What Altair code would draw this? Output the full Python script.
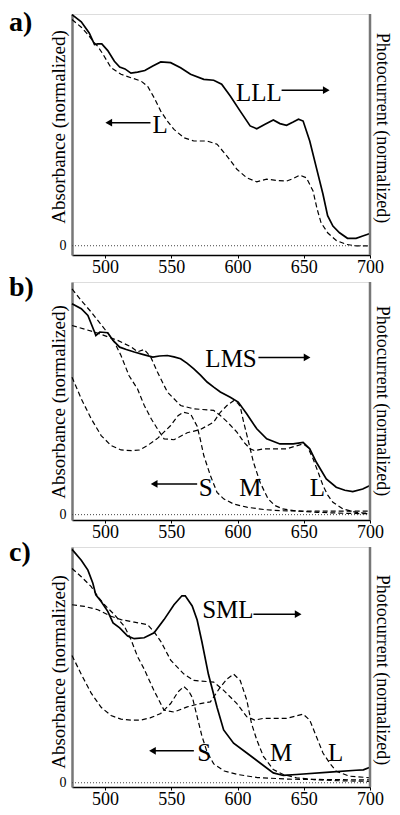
import altair as alt
import pandas as pd

FONT = "Liberation Serif"

# ---------------- Panel a ----------------
a_lll_nm = [475, 482, 488, 492, 494.5, 497.5, 502, 507, 511, 515, 519.5, 524.5, 530, 536, 542, 549.5, 557, 564.5,
            574.5, 582, 588, 594.5, 602, 609.5, 614.5, 620.75, 627, 632, 637, 642, 646, 649.5, 654.5, 659.5, 664.5,
            668, 672, 677, 683, 689.5, 694.5, 700]
a_lll_val = [0.997, 0.966, 0.918, 0.868, 0.871, 0.871, 0.842, 0.796, 0.771, 0.763, 0.745, 0.749, 0.756, 0.776, 0.793,
             0.790, 0.768, 0.740, 0.718, 0.714, 0.697, 0.646, 0.581, 0.517, 0.505, 0.524, 0.543, 0.527, 0.520, 0.534,
             0.546, 0.538, 0.452, 0.337, 0.222, 0.130, 0.085, 0.056, 0.032, 0.032, 0.042, 0.053]
a_l_nm = [475, 482, 487, 492, 494.5, 498, 504.5, 512, 519.5, 527, 532, 537, 542, 547, 552, 559.5, 567, 577, 584.5,
          592, 599.5, 607, 614.5, 622, 629.5, 637, 642, 647, 652, 657, 660, 663, 668, 674.5, 682, 689.5, 700]
a_l_val = [0.976, 0.943, 0.911, 0.875, 0.86, 0.83, 0.768, 0.740, 0.725, 0.711, 0.689, 0.639, 0.581, 0.538, 0.502,
           0.466, 0.452, 0.452, 0.438, 0.387, 0.330, 0.293, 0.276, 0.287, 0.282, 0.279, 0.29, 0.305, 0.293, 0.236,
           0.16, 0.10, 0.056, 0.023, 0.006, -0.001, -0.001]

# ---------------- Panel b ----------------
b_lms_nm = [475, 482, 487, 492, 493, 496, 502, 506, 511, 516, 522, 529, 536, 541, 547, 552, 557, 562, 567, 572, 577,
            582, 587, 594.5, 600.5, 607, 614.5, 622, 632, 642, 649.5, 654.5, 659.5, 667, 674.5, 681, 687, 694.5, 700]
b_lms_val = [0.907, 0.885, 0.856, 0.785, 0.77, 0.785, 0.782, 0.749, 0.72, 0.71, 0.699, 0.688, 0.677, 0.682, 0.684,
             0.678, 0.67, 0.65, 0.627, 0.60, 0.57, 0.548, 0.527, 0.505, 0.484, 0.433, 0.369, 0.326, 0.304, 0.304,
             0.311, 0.283, 0.225, 0.154, 0.118, 0.105, 0.099, 0.11, 0.125]
b_s_nm = [475, 482, 489.5, 497, 504.5, 512, 520, 526, 532, 540, 549.5, 555, 559, 564.5, 569.5, 572, 574.5, 579.5,
          584.5, 589.5, 597, 607, 620, 632, 660, 700]
b_s_val = [0.591, 0.498, 0.412, 0.34, 0.297, 0.278, 0.275, 0.278, 0.297, 0.33, 0.383, 0.425, 0.44, 0.433, 0.38, 0.32,
           0.254, 0.168, 0.096, 0.068, 0.046, 0.032, 0.022, 0.017, 0.015, 0.015]
b_m_nm = [475, 482, 489.5, 499.5, 507, 512, 518, 524.5, 529.5, 535, 539.5, 544.5, 552, 562, 572, 582, 587, 592, 597,
          600, 602, 604.5, 608, 612, 617, 623, 628, 634, 645, 660, 680, 700]
b_m_val = [0.97, 0.92, 0.871, 0.799, 0.742, 0.684, 0.598, 0.54, 0.47, 0.41, 0.369, 0.326, 0.322, 0.352, 0.366, 0.398,
           0.44, 0.469, 0.49, 0.48, 0.465, 0.40, 0.32, 0.225, 0.139, 0.068, 0.04, 0.025, 0.015, 0.01, 0.006, 0.004]
b_l_nm = [475, 492, 509.5, 520, 524.5, 529.5, 534.5, 539.5, 547, 557, 567, 582, 587, 592, 599.5, 605, 609.5, 613,
          619.5, 637, 644, 649.5, 653, 657, 661, 664.5, 668, 672, 679.5, 689.5, 700]
b_l_val = [0.813, 0.785, 0.749, 0.72, 0.70, 0.71, 0.677, 0.613, 0.527, 0.469, 0.455, 0.448, 0.426, 0.40, 0.355, 0.31,
           0.283, 0.275, 0.283, 0.283, 0.295, 0.304, 0.29, 0.24, 0.18, 0.125, 0.085, 0.053, 0.025, 0.01, 0.005]

# ---------------- Panel c ----------------
c_sml_nm = [475, 482, 487, 490.75, 493, 497, 502, 506, 511, 517, 522, 529.5, 537, 544.5, 552, 558, 560.5, 565.75,
            569.5, 573, 578, 584.5, 589.5, 597, 607, 617, 627, 634.5, 644.5, 669.5, 689.5, 695, 700]
c_sml_val = [0.99, 0.944, 0.902, 0.846, 0.797, 0.769, 0.727, 0.678, 0.657, 0.622, 0.611, 0.615, 0.636, 0.692, 0.755,
             0.793, 0.793, 0.75, 0.69, 0.60, 0.46, 0.32, 0.224, 0.168, 0.126, 0.084, 0.042, 0.031, 0.035, 0.045,
             0.053, 0.055, 0.066]
c_s_nm = [475, 482, 489.5, 497, 504.5, 512, 520, 527, 534, 542, 549.5, 555, 559.5, 563, 566, 569.5, 573, 577, 582,
          590, 600, 615, 640, 700]
c_s_val = [0.54, 0.46, 0.38, 0.32, 0.285, 0.27, 0.265, 0.266, 0.275, 0.294, 0.336, 0.385, 0.408, 0.39, 0.36, 0.28,
           0.2, 0.13, 0.08, 0.05, 0.035, 0.022, 0.015, 0.012]
c_m_nm = [475, 482, 489.5, 494.5, 499.5, 507, 514.5, 519.5, 524.5, 529.5, 537, 544.5, 552, 562, 572, 579.5, 587, 592,
          597, 602, 607, 610.5, 614.5, 619.5, 627, 634.5, 644.5, 660, 680, 700]
c_m_val = [0.909, 0.874, 0.832, 0.79, 0.755, 0.713, 0.664, 0.608, 0.535, 0.482, 0.39, 0.308, 0.30, 0.322, 0.336,
           0.343, 0.406, 0.44, 0.461, 0.434, 0.35, 0.252, 0.182, 0.112, 0.056, 0.035, 0.021, 0.012, 0.008, 0.006]
c_l_nm = [475, 484.5, 494.5, 504.5, 512, 522, 532, 537, 542, 549.5, 559.5, 567, 582, 589.5, 599.5, 607, 613, 619.5,
          637, 649.5, 654.5, 659.5, 664.5, 669.5, 674.5, 684.5, 700]
c_l_val = [0.755, 0.748, 0.734, 0.706, 0.692, 0.681, 0.671, 0.64, 0.60, 0.52, 0.461, 0.434, 0.427, 0.392, 0.336, 0.28,
           0.266, 0.273, 0.273, 0.291, 0.266, 0.196, 0.126, 0.084, 0.049, 0.028, 0.021]

# ---------------- Annotations ----------------
a_txt = ["LLL", "L"]
a_txt_nm = [598.75, 535.75]
a_txt_v = [0.625, 0.4865]
a_arr_from = [633.25, 534.25]
a_arr_to = [667.0, 502.75]
a_arr_v = [0.671, 0.531]

b_txt = ["LMS", "S", "M", "L"]
b_txt_nm = [575.7, 570.75, 601.2, 654.5]
b_txt_v = [0.633, 0.0815, 0.0815, 0.0815]
b_arr_from = [615.75, 569.5]
b_arr_to = [652.5, 537.0]
b_arr_v = [0.676, 0.132]

c_txt = ["SML", "S", "M", "L"]
c_txt_nm = [573.25, 569.5, 624.5, 668.25]
c_txt_v = [0.698, 0.091, 0.091, 0.091]
c_arr_from = [612.0, 567.0]
c_arr_to = [645.75, 535.75]
c_arr_v = [0.715, 0.1357]

panel_labels = ["a)", "b)", "c)"]
left_title = "Absorbance (normalized)"
right_title = "Photocurrent (normalized)"
x_ticks = [500, 525, 550, 575, 600, 625, 650, 675, 700]

W = 298


def curves_df(pairs):
    frames = []
    for name, nm, val in pairs:
        frames.append(pd.DataFrame({"nm": nm, "v": val, "curve": name}))
    return pd.concat(frames, ignore_index=True)


def panel(solid, dashed, txt, txt_nm, txt_v, arr_from, arr_to, arr_v, label, ymin, height,
          label_y, ltitle_y, rtitle_y):
    xs = alt.Scale(domain=[475, 700], nice=False, zero=False)
    ys = alt.Scale(domain=[ymin, 1.0], nice=False, zero=False)
    xenc = alt.X("nm:Q", scale=xs, axis=alt.Axis(
        values=x_ticks, labelExpr="datum.value % 50 == 0 ? datum.label : ''", title=None, grid=False,
        domainColor="black", domainWidth=1.6, tickColor="black", tickSize=3, tickWidth=1,
        labelFont=FONT, labelFontSize=18, labelColor="black", labelPadding=0, labelFlush=False))
    yenc = alt.Y("v:Q", scale=ys, axis=alt.Axis(
        values=[0], format="d", title=None, grid=False, domainColor="#777777", domainWidth=2.5, tickSize=0,
        labelFont=FONT, labelFontSize=14, labelColor="black", labelPadding=6))

    dashed_df = curves_df(dashed)
    solid_df = curves_df([solid])

    l_dash = alt.Chart(dashed_df).mark_line(color="black", strokeWidth=1.2, strokeDash=[5, 3]).encode(
        x=xenc, y=yenc, detail="curve:N")
    l_solid = alt.Chart(solid_df).mark_line(color="black", strokeWidth=1.7).encode(
        x=alt.X("nm:Q", scale=xs), y=alt.Y("v:Q", scale=ys))
    zero = alt.Chart(pd.DataFrame({"v": [0.0]})).mark_rule(
        color="#444444", strokeWidth=1, strokeDash=[1, 2]).encode(y=alt.Y("v:Q", scale=ys))
    right = alt.Chart(pd.DataFrame({"nm": [700]})).mark_rule(color="#777777", strokeWidth=2.5).encode(
        x=alt.X("nm:Q", scale=xs), y=alt.value(0), y2=alt.value(height))

    tdf = pd.DataFrame({"nm": txt_nm, "v": txt_v, "t": txt})
    texts = alt.Chart(tdf).mark_text(font=FONT, fontSize=25, align="left", baseline="alphabetic",
                                     color="black").encode(
        x=alt.X("nm:Q", scale=xs), y=alt.Y("v:Q", scale=ys), text="t:N")

    adf = pd.DataFrame({"x1": arr_from, "x2": arr_to, "v": arr_v})
    arrows = alt.Chart(adf).mark_rule(color="black", strokeWidth=1.5).encode(
        x=alt.X("x1:Q", scale=xs), x2="x2:Q", y=alt.Y("v:Q", scale=ys))
    hdf = pd.DataFrame({"nm": arr_to, "v": arr_v,
                        "shape": ["triangle-right" if b > a else "triangle-left"
                                  for a, b in zip(arr_from, arr_to)]})
    heads = alt.Chart(hdf).mark_point(filled=True, color="black", opacity=1, size=60, strokeWidth=0).encode(
        x=alt.X("nm:Q", scale=xs), y=alt.Y("v:Q", scale=ys), shape=alt.Shape("shape:N", scale=None))

    lab = alt.Chart(pd.DataFrame({"t": [label]})).mark_text(
        font=FONT, fontSize=28, fontWeight="bold", align="left", baseline="top", color="black").encode(
        x=alt.value(-63), y=alt.value(label_y), text="t:N")
    lt = alt.Chart(pd.DataFrame({"t": [left_title]})).mark_text(
        font=FONT, fontSize=19, angle=270, align="center", baseline="middle", color="black").encode(
        x=alt.value(-13), y=alt.value(ltitle_y), text="t:N")
    rt = alt.Chart(pd.DataFrame({"t": [right_title]})).mark_text(
        font=FONT, fontSize=18, angle=90, align="center", baseline="middle", color="black").encode(
        x=alt.value(310), y=alt.value(rtitle_y), text="t:N")

    return alt.layer(l_dash, l_solid, zero, right, texts, arrows, heads, lab, lt, rt).properties(
        width=W, height=height)


pa = panel(("LLL", a_lll_nm, a_lll_val), [("L", a_l_nm, a_l_val)],
           a_txt, a_txt_nm, a_txt_v, a_arr_from, a_arr_to, a_arr_v, panel_labels[0],
           -0.04, 241, -5, 113, 114)
pb = panel(("LMS", b_lms_nm, b_lms_val), [("S", b_s_nm, b_s_val), ("M", b_m_nm, b_m_val), ("L", b_l_nm, b_l_val)],
           b_txt, b_txt_nm, b_txt_v, b_arr_from, b_arr_to, b_arr_v, panel_labels[1],
           -0.023, 238, -8, 120, 119)
pc = panel(("SML", c_sml_nm, c_sml_val), [("S", c_s_nm, c_s_val), ("M", c_m_nm, c_m_val), ("L", c_l_nm, c_l_val)],
           c_txt, c_txt_nm, c_txt_v, c_arr_from, c_arr_to, c_arr_v, panel_labels[2],
           -0.018, 240, -8, 125, 123)

chart = alt.vconcat(pa, pb, pc, spacing=27, bounds="flush").properties(
    padding=0
).configure_view(stroke=None).configure(background="white")

chart.save("out.html", embed_options={"renderer": "svg", "actions": False})
